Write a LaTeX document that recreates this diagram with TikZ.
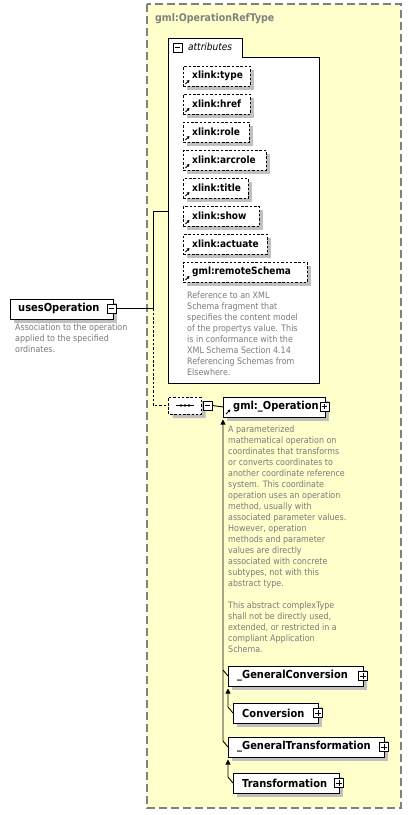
\documentclass[tikz,border=0pt]{standalone}
\usepackage{fontspec}
\setmainfont{DejaVuSansCondensed}[Extension=.ttf, BoldFont=DejaVuSansCondensed-Bold, ItalicFont=DejaVuSansCondensed-Oblique, BoldItalicFont=DejaVuSansCondensed-BoldOblique]
\usetikzlibrary{shadows,arrows.meta,shapes.misc}
\definecolor{ylw}{HTML}{FFFFCC}
\definecolor{brd}{HTML}{808080}
\definecolor{shd}{HTML}{C0C0C0}
\definecolor{dsc}{HTML}{7A7A7A}
\newcommand\elem[6]{% name, x, y, width, text, text x
  \node[ebox, minimum width=#4pt] (#1) at (#2,#3) {};
  \node[elbl] (#1t) at (#6,#3+10) {#5};}
\newcommand\attrib[4]{% name, yc, right, text
  \node[abox, minimum width=#3pt-183pt] (#1) at (183,#2-10) {};
  \node[albl] (#1t) at (192,#2) {#4};
  \draw[icon] (185.5,#2+8) -- (189.5,#2+4);}
\newcommand\pmb[4]{% name, x, y, sign (1 = plus)
  \node[pm] (#1) at (#2,#3) {};
  \draw[line width=0.7pt] ([xshift=2pt]#1.west) -- ([xshift=-2pt]#1.east);
  \ifnum#4=1 \draw[line width=0.7pt] ([yshift=-2pt]#1.north) -- ([yshift=2pt]#1.south);\fi}
\begin{document}
\begin{tikzpicture}[x=1pt,y=-1pt,
  shadowed/.style={general shadow={shadow xshift=4pt, shadow yshift=-4pt, fill=shd, draw=none}},
  ebox/.style={draw=black, line width=0.9pt, fill=white, inner sep=0pt, anchor=north west, minimum height=20pt, shadowed},
  abox/.style={draw=black, line width=0.9pt, dash pattern=on 2.5pt off 1.8pt, fill=white, inner sep=0pt, anchor=north west, minimum height=20pt, shadowed},
  elbl/.style={font=\bfseries\fontsize{11}{13}\selectfont, inner sep=0pt, anchor=west},
  albl/.style={font=\bfseries\fontsize{10}{12}\selectfont, inner sep=0pt, anchor=west},
  desc/.style={font=\fontsize{8.85}{11}\selectfont, text=dsc, align=left, anchor=north west, inner sep=0pt},
  pm/.style={draw=black, fill=white, minimum size=9pt, inner sep=0pt, line width=0.7pt},
  icon/.style={line width=0.8pt, -{Triangle[length=2.6pt,width=2.8pt]}},
  conn/.style={line width=0.9pt},
  arr/.style={line width=0.9pt, -{Triangle[length=5pt,width=5pt]}},
]
\useasboundingbox (0,0) rectangle (412,815);
\fill[white] (0,0) rectangle (412,815);
% outer complex type
\draw[fill=ylw, draw=brd, line width=1.4pt, dash pattern=on 8pt off 4pt] (147,4) rectangle (401,808);
\node[font=\bfseries\fontsize{10.5}{12}\selectfont, text=brd, anchor=west, inner sep=0pt] (title) at (155,19) {gml:OperationRefType};
% attributes group
\draw[fill=white, line width=0.9pt] (168,38) -- (242,38) -- (242,57) -- (319,57) -- (319,383) -- (168,383) -- cycle;
\pmb{attrpm}{177.5}{47.5}{0}
\node[font=\itshape\fontsize{10}{12}\selectfont, anchor=west, inner sep=0pt] (attrlbl) at (188,47) {attributes};
\attrib{a1}{76}{250}{xlink:type}
\attrib{a2}{104}{250}{xlink:href}
\attrib{a3}{132}{249}{xlink:role}
\attrib{a4}{160}{266}{xlink:arcrole}
\attrib{a5}{188}{248}{xlink:title}
\attrib{a6}{216}{259}{xlink:show}
\attrib{a7}{244}{267}{xlink:actuate}
\attrib{a8}{272}{307}{gml:remoteSchema}
\node[desc] (a8d) at (187,291.3) {Reference to an XML\\Schema fragment that\\specifies the content model\\of the propertys value. This\\is in conformance with the\\XML Schema Section 4.14\\Referencing Schemas from\\Elsewhere.};
% usesOperation
\elem{uses}{10}{298.5}{103}{usesOperation}{18}
\pmb{usespm}{111.5}{308.5}{0}
\node[desc] (usesd) at (15,323.3) {Association to the operation\\applied to the specified\\ordinates.};
% connectors from usesOperation
\coordinate (j0) at (153,211);
\coordinate (j1) at (153,308.5);
\coordinate (j2) at (153,405.5);
\coordinate (attrL) at (168,211);
\draw[conn] (usespm.east) -- (j1);
\draw[conn] (attrL) -- (j0) -- (j1);
% sequence
\node[chamfered rectangle, chamfered rectangle xsep=6pt, chamfered rectangle ysep=5pt, draw=black, line width=0.9pt, dash pattern=on 2.5pt off 1.8pt, fill=white, minimum width=33pt, minimum height=17pt, inner sep=0pt, shadowed] (seq) at (185,405.5) {};
\draw[line width=0.9pt, dash pattern=on 2.5pt off 1.8pt] (j1) -- (j2) -- (seq.west);
\draw[line width=0.9pt] (176,405.5) -- (194,405.5);
\foreach \dx in {181,185,189} \fill (\dx,405.5) circle (1.4pt);
\pmb{seqpm}{207.5}{405.5}{0}
% gml:_Operation
\elem{op}{223}{396.5}{102}{gml:\_Operation}{233}
\pmb{oppm}{324.5}{406.5}{1}
\draw[icon] (226,414) -- (230.5,409.5);
\draw[conn] (seqpm.east) -- (op.west);
\node[desc] (opd) at (228,425.3) {A parameterized\\mathematical operation on\\coordinates that transforms\\or converts coordinates to\\another coordinate reference\\system. This coordinate\\operation uses an operation\\method, usually with\\associated parameter values.\\However, operation\\methods and parameter\\values are directly\\associated with concrete\\subtypes, not with this\\abstract type.\\[11pt]This abstract complexType\\shall not be directly used,\\extended, or restricted in a\\compliant Application\\Schema.};
% substitution group members
\elem{gc}{228}{666}{135}{\_GeneralConversion}{237}
\pmb{gcpm}{363}{676}{1}
\elem{cv}{233}{703}{85}{Conversion}{242}
\pmb{cvpm}{318}{713}{1}
\elem{gt}{228}{737}{156}{\_GeneralTransformation}{237}
\pmb{gtpm}{384}{747}{1}
\elem{tr}{233}{773}{106}{Transformation}{242}
\pmb{trpm}{339}{783}{1}
% substitution connectors
\coordinate (optip) at (223,419.5);
\coordinate (k1) at (223,670);
\coordinate (k2) at (223,741);
\coordinate (gcin) at (228,676);
\coordinate (gtin) at (228,747);
\draw[arr] (gtin) -- (k2) -- (optip);
\draw[conn] (gcin) -- (k1);
\coordinate (gctip) at (228,688.5);
\coordinate (k3) at (228,707);
\coordinate (cvin) at (233,713);
\draw[arr] (cvin) -- (k3) -- (gctip);
\coordinate (gttip) at (228,759.5);
\coordinate (k4) at (228,777);
\coordinate (trin) at (233,783);
\draw[arr] (trin) -- (k4) -- (gttip);
\end{tikzpicture}
\end{document}
